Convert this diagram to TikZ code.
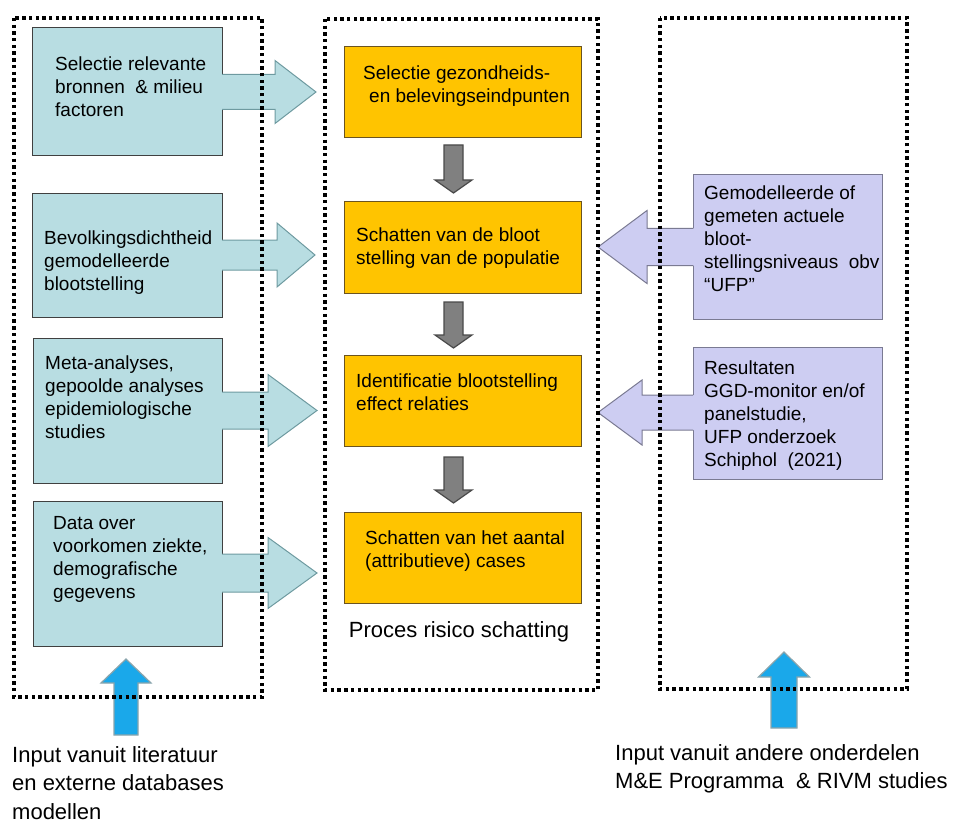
\documentclass[tikz,border=0pt]{standalone}
\usepackage{fontspec}
\setmainfont{Liberation Sans}
\usetikzlibrary{calc}
\definecolor{tealfill}{HTML}{B8DDE2}
\definecolor{tealline}{HTML}{6E9AA0}
\definecolor{orangefill}{HTML}{FFC400}
\definecolor{orangeline}{HTML}{6B5420}
\definecolor{lavfill}{HTML}{CDCDF2}
\definecolor{lavline}{HTML}{7A7A92}
\definecolor{grayfill}{HTML}{808080}
\definecolor{grayline}{HTML}{4A4A4A}
\definecolor{bluefill}{HTML}{1AA8EA}
\definecolor{blueline}{HTML}{8AA4AC}
% horizontal block arrow: #1 fill, #2 line, #3 fill start x, #4 line start x, #5 y centre, #6 shaft half, #7 head half, #8 head back x, #9 tip x
\newcommand\hblockarrow[9]{%
  \fill[#1] (#3,#5-#6) -- (#8,#5-#6) -- (#8,#5-#7) -- (#9,#5) -- (#8,#5+#7) -- (#8,#5+#6) -- (#3,#5+#6) -- cycle;
  \draw[#2, line width=1pt, line join=miter] (#4,#5-#6) -- (#8,#5-#6) -- (#8,#5-#7) -- (#9,#5) -- (#8,#5+#7) -- (#8,#5+#6) -- (#4,#5+#6);}
% vertical block arrow: #1 fill, #2 line, #3 x centre, #4 shaft half, #5 head half, #6 tail y, #7 head base y, #8 tip y
\newcommand\vblockarrow[8]{%
  \filldraw[fill=#1, draw=#2, line width=1.2pt, line join=miter] (#3-#4,#6) -- (#3-#4,#7) -- (#3-#5,#7) -- (#3,#8) -- (#3+#5,#7) -- (#3+#4,#7) -- (#3+#4,#6) -- cycle;}
\begin{document}
\begin{tikzpicture}[x=1pt,y=-1pt,
  dotframe/.style={draw=black, line width=3.4pt, dash pattern=on 3.4pt off 3.3pt},
  tealbox/.style={draw=black!75, fill=tealfill, line width=1pt, anchor=north west, inner sep=0pt},
  orangebox/.style={draw=orangeline, fill=orangefill, line width=1pt, anchor=north west, inner sep=0pt},
  lavbox/.style={draw=lavline, fill=lavfill, line width=1pt, anchor=north west, inner sep=0pt},
  boxtxt/.style={anchor=north west, inner sep=0pt, align=left, font=\fontsize{19}{23}\selectfont},
  bigtxt/.style={anchor=north west, inner sep=0pt, align=left, font=\fontsize{22}{28.5}\selectfont}]
\useasboundingbox (0,0) rectangle (954,824);

% left column boxes
\node[tealbox, minimum width=190pt, minimum height=128pt] (L1) at (32,27) {};
\node[tealbox, minimum width=190pt, minimum height=124pt] (L2) at (32,193) {};
\node[tealbox, minimum width=189pt, minimum height=145pt] (L3) at (33,338) {};
\node[tealbox, minimum width=189pt, minimum height=145pt] (L4) at (33,501) {};

% middle column boxes
\node[orangebox, minimum width=237pt, minimum height=91pt] (O1) at (344,46) {};
\node[orangebox, minimum width=237pt, minimum height=92pt] (O2) at (344,201) {};
\node[orangebox, minimum width=237pt, minimum height=91pt] (O3) at (344,355) {};
\node[orangebox, minimum width=237pt, minimum height=91pt] (O4) at (344,512) {};

% right column boxes
\node[lavbox, minimum width=189pt, minimum height=145pt] (R1) at (693,174) {};
\node[lavbox, minimum width=189pt, minimum height=132pt] (R2) at (693,347) {};

% block arrows from left boxes
\hblockarrow{tealfill}{tealline}{220}{222}{92}{17.5}{31.5}{275}{316}
\hblockarrow{tealfill}{tealline}{220}{222}{255}{15}{32}{277}{315}
\hblockarrow{tealfill}{tealline}{220}{222}{410.5}{18.5}{36}{268}{317}
\hblockarrow{tealfill}{tealline}{220}{222}{573}{19}{35.5}{268}{317}

% block arrows from right boxes
\hblockarrow{lavfill}{lavline}{695}{693}{247}{18.5}{36.5}{647}{598}
\hblockarrow{lavfill}{lavline}{695}{693}{412.5}{17.5}{32.5}{642}{598}

% grey arrows between process steps
\vblockarrow{grayfill}{grayline}{453.5}{9.5}{18.5}{145}{180}{193}
\vblockarrow{grayfill}{grayline}{453.5}{9.5}{18.5}{302}{335}{348}
\vblockarrow{grayfill}{grayline}{453.5}{9.5}{18.5}{457}{490}{503}

% blue input arrows
\vblockarrow{bluefill}{blueline}{126}{12}{25}{735}{683}{659}
\vblockarrow{bluefill}{blueline}{784}{13}{25.5}{728}{677}{652}

% dotted frames
\draw[dotframe] (14,18) rectangle (262,697);
\draw[dotframe] (325,19) rectangle (598,690);
\draw[dotframe] (660,18) rectangle (907,689);

% texts in left boxes
\node[boxtxt] (tL1) at (55,57) {Selectie relevante\\bronnen\ \ \& milieu\\factoren};
\node[boxtxt] (tL2) at (44,231) {Bevolkingsdichtheid\\gemodelleerde\\blootstelling};
\node[boxtxt] (tL3) at (45,356) {Meta-analyses,\\gepoolde analyses\\epidemiologische\\studies};
\node[boxtxt] (tL4) at (53,516) {Data over\\voorkomen ziekte,\\demografische\\gegevens};

% texts in middle boxes
\node[boxtxt] (tO1) at (363,66) {Selectie gezondheids-\\\hspace*{6pt}en belevingseindpunten};
\node[boxtxt] (tO2) at (356,228) {Schatten van de bloot\\stelling van de populatie};
\node[boxtxt] (tO3) at (356,374) {Identificatie blootstelling\\effect relaties};
\node[boxtxt] (tO4) at (365,531) {Schatten van het aantal\\(attributieve) cases};

% texts in right boxes
\node[boxtxt] (tR1) at (704,186) {Gemodelleerde of\\gemeten actuele\\bloot-\\stellingsniveaus\ \ obv\\“UFP”};
\node[boxtxt] (tR2) at (704,361) {Resultaten\\GGD-monitor en/of\\panelstudie,\\UFP onderzoek\\Schiphol\ \ (2021)};

% captions
\node[font=\fontsize{22}{26}\selectfont, inner sep=0pt] (proc) at (459,632) {Proces risico schatting};
\node[bigtxt] (inL) at (12,746) {Input vanuit literatuur\\en externe databases\\modellen};
\node[bigtxt] (inR) at (615,744) {Input vanuit andere onderdelen\\M\&E Programma\ \ \& RIVM studies};
\end{tikzpicture}
\end{document}
